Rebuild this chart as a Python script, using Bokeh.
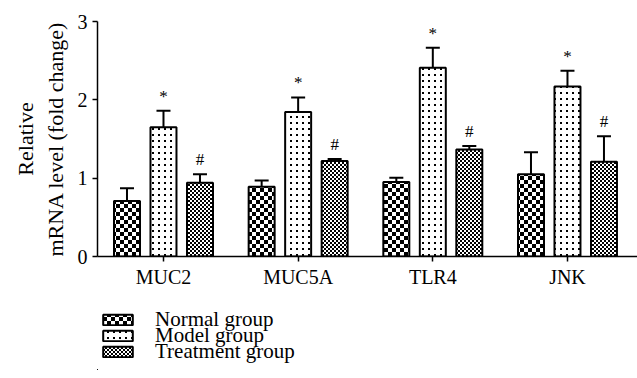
from bokeh.plotting import figure
from bokeh.layouts import column
from bokeh.models import (Range1d, FixedTicker, Whisker, TeeHead, ColumnDataSource,
                          Legend, LegendItem, CanvasTexture)
from bokeh.core.properties import value
from bokeh.embed import file_html
from bokeh.resources import INLINE

categories = ["MUC2", "MUC5A", "TLR4", "JNK"]
groups = ["Normal group", "Model group", "Treatment group"]
normal = [0.71, 0.89, 0.95, 1.05]
normal_err = [0.16, 0.08, 0.055, 0.28]
model = [1.65, 1.845, 2.41, 2.17]
model_err = [0.21, 0.185, 0.255, 0.20]
treat = [0.94, 1.22, 1.366, 1.21]
treat_err = [0.11, 0.025, 0.045, 0.325]
model_marks = ["*", "*", "*", "*"]
treat_marks = ["#", "#", "#", "#"]
y_ticks = [0, 1, 2, 3]

FONT = "Liberation Serif"


def checker_code(n):
    return f"""
const n = {n};
ctx.canvas.width = n;
ctx.canvas.height = n;
const s = n / 2;
ctx.fillStyle = 'white';
ctx.fillRect(0, 0, n, n);
ctx.fillStyle = 'black';
ctx.fillRect(0, 0, s, s);
ctx.fillRect(s, s, s, s);
"""


def dot_code(n, d):
    return f"""
const n = {n};
ctx.canvas.width = n;
ctx.canvas.height = n;
ctx.fillStyle = 'white';
ctx.fillRect(0, 0, n, n);
ctx.fillStyle = 'black';
ctx.fillRect(2, 2, {d}, {d});
"""


textures = {
    "coarse": CanvasTexture(code=checker_code(8)),
    "dots": CanvasTexture(code=dot_code(6, 2)),
    "fine": CanvasTexture(code=checker_code(4)),
}

p = figure(width=637, height=290, output_backend="svg", toolbar_location=None,
           x_range=Range1d(0.01, 4.02), y_range=Range1d(0, 3),
           min_border_left=97, min_border_right=0, min_border_top=21, min_border_bottom=32)
p.outline_line_color = None
p.xgrid.visible = False
p.ygrid.visible = False

p2 = figure(width=637, height=80, output_backend="svg", toolbar_location=None,
            x_range=Range1d(100, 101), y_range=Range1d(100, 101),
            min_border_left=0, min_border_right=0, min_border_top=0, min_border_bottom=0)
p2.outline_line_color = None
p2.axis.visible = False
p2.xgrid.visible = False
p2.ygrid.visible = False

centers = [i + 0.5 for i in range(len(categories))]
offset = 0.271
bw = 0.193

series = [
    (normal, normal_err, -offset, "coarse", None),
    (model, model_err, 0.0, "dots", model_marks),
    (treat, treat_err, offset, "fine", treat_marks),
]


def bars(fig, src, pat):
    kw = dict(x="x", top="top", width=bw, source=src, fill_color="white",
              line_color="black", line_width=2, hatch_extra=textures,
              hatch_color="black")
    try:
        return fig.vbar(hatch_pattern=value(pat), **kw)
    except Exception:
        return fig.vbar(hatch_pattern="pat", **kw)


legend_tops = [38, 22, 6]
for (vals, errs, off, pat, marks), name, ly in zip(series, groups, legend_tops):
    xs = [c + off for c in centers]
    upper = [v + e for v, e in zip(vals, errs)]
    src = ColumnDataSource(dict(x=xs, top=vals, upper=upper, pat=[pat] * len(xs)))
    wh = Whisker(base="x", lower="top", upper="upper", source=src, dimension="height",
                 line_width=2, line_color="black",
                 upper_head=TeeHead(size=14, line_width=2, line_color="black"),
                 lower_head=None)
    p.add_layout(wh)
    bars(p, src, pat)
    r2 = bars(p2, src, pat)
    lg = Legend(items=[LegendItem(label=name, renderers=[r2])], location=(2, ly),
                glyph_width=37, glyph_height=13, label_standoff=19,
                label_height=13, spacing=0, padding=0, margin=0,
                label_text_font=FONT, label_text_font_size="21px",
                label_text_baseline="alphabetic", label_text_color="black",
                border_line_color=None, background_fill_alpha=0)
    p2.add_layout(lg, "center")
    if marks is not None:
        msrc = ColumnDataSource(dict(x=xs, y=upper, t=marks))
        p.text(x="x", y="y", text="t", source=msrc, text_align="center",
               text_baseline="bottom", y_offset=-5,
               text_font=value(FONT), text_font_size="17px", text_color="black")

p.xaxis.ticker = FixedTicker(ticks=centers)
p.xaxis.major_label_overrides = {c: lab for c, lab in zip(centers, categories)}
p.yaxis.ticker = FixedTicker(ticks=y_ticks)
for ax in (p.xaxis, p.yaxis):
    ax.axis_line_width = 1.5
    ax.axis_line_color = "black"
    ax.major_tick_line_width = 1.5
    ax.major_tick_out = 5
    ax.major_tick_in = 0
    ax.minor_tick_line_color = None
    ax.major_label_text_font = FONT
    ax.major_label_text_font_size = "20px"
    ax.major_label_text_color = "black"
p.xaxis.major_label_standoff = 4
p.yaxis.major_label_standoff = 5
p.yaxis.axis_label = "Relative\nmRNA level (fold change)"
p.yaxis.axis_label_text_font = FONT
p.yaxis.axis_label_text_font_style = "normal"
p.yaxis.axis_label_text_font_size = "22px"
p.yaxis.axis_label_text_color = "black"
p.yaxis.axis_label_standoff = 7

layout = column(p, p2, spacing=0)
open("out.html", "w").write(file_html(layout, INLINE))
